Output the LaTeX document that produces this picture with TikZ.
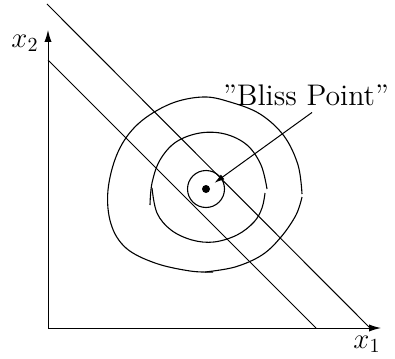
\documentclass[tikz,border=0pt]{standalone}
\usepackage{fontspec}
\usetikzlibrary{arrows.meta}
\begin{document}
\begin{tikzpicture}[x=0.5pt, y=-0.5pt, line width=0.5pt,
  lbl/.style={font=\fontsize{14.9}{18}\selectfont},
  axis/.style={-{Latex[length=6pt,width=3.6pt]}},
  contour/.style={line width=0.55pt}]
\useasboundingbox (0,0) rectangle (395,358);
  % axes
  \coordinate (O) at (48,328);
  \coordinate (ytop) at (48,30);
  \coordinate (xend) at (381,328);
  \draw[axis] (O) -- (ytop);
  \draw[axis] (O) -- (xend);
  \node[lbl] (xtwo) at (25,43) {$x_2$};
  \node[lbl] (xone) at (367,344) {$x_1$};
  % budget lines
  \coordinate (hiA) at (47,4);
  \coordinate (hiB) at (370,328);
  \coordinate (loA) at (48,60);
  \coordinate (loB) at (316,328);
  \draw (hiA) -- (hiB);
  \draw (loA) -- (loB);
  % indifference contours
  \draw[contour] plot[smooth, tension=0.6] coordinates {(302,194) (298,165) (284,136) (260,114) (230,102) (203,97) (170,104) (138,124) (118,152) (108,190) (111,224) (126,248) (155,263) (190,271) (213,272)};
  \draw[contour] plot[smooth, tension=0.6] coordinates {(205,272) (235,267) (262,255) (281,237) (296,215) (302,197)};
  \draw[contour] plot[smooth, tension=0.6] coordinates {(150,205) (152,183) (160,160) (176,142) (200,133) (225,134) (247,145) (261,165) (267,189)};
  \draw[contour] plot[smooth, tension=0.6] coordinates {(152,188) (157,213) (171,230) (192,240) (214,242) (237,235) (254,222) (262,208) (265,193)};
  % bliss point
  \node[circle, fill, inner sep=0pt, minimum size=4pt] (bp) at (206,189) {};
  \draw[contour] (bp) circle[radius=18.5];
  \node[lbl, anchor=base] (bliss) at (306,105) {"Bliss Point"};
  \draw[-{Latex[length=5pt,width=3pt]}, shorten >=3pt] ([xshift=3pt]bliss.south) -- (bp);
\end{tikzpicture}
\end{document}
